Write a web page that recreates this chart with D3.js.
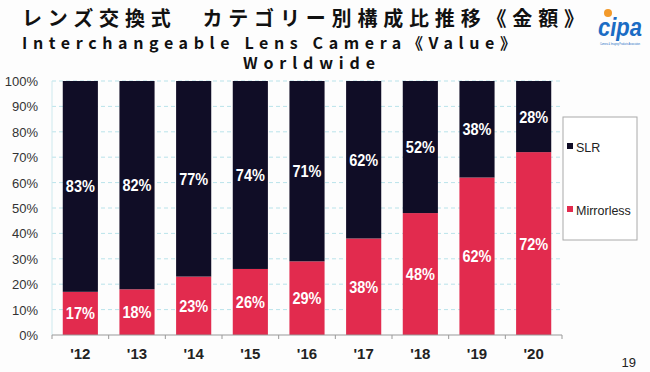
<!DOCTYPE html>
<html>
<head>
<meta charset="utf-8">
<script src="https://cdnjs.cloudflare.com/ajax/libs/d3/7.8.5/d3.min.js"></script>
<style>
  body { margin: 0; background: #fdfdfd; }
  svg { display: block; }
</style>
</head>
<body>
<div id="chart"></div>
<script>
var years = ["'12", "'13", "'14", "'15", "'16", "'17", "'18", "'19", "'20"];
var mirrorless = [17, 18, 23, 26, 29, 38, 48, 62, 72];
var slr = [83, 82, 77, 74, 71, 62, 52, 38, 28];
var yTicks = [0, 10, 20, 30, 40, 50, 60, 70, 80, 90, 100];

var W = 650, H = 372;
var plotL = 52, plotR = 562, plotT = 81, plotB = 335;
var colSLR = "#100d26", colMirror = "#e22b4e";

var svg = d3.select("#chart").append("svg")
    .attr("width", W).attr("height", H);

svg.append("rect").attr("width", W).attr("height", H).attr("fill", "#fdfdfd");

// titles
var jp = "'Noto Sans CJK JP', sans-serif";
svg.append("text")
    .attr("x", 22).attr("y", 26)
    .attr("textLength", 562).attr("lengthAdjust", "spacing")
    .style("font-family", jp).style("font-weight", "bold").style("font-size", "20px")
    .attr("fill", "#111")
    .text("レンズ交換式　カテゴリー別構成比推移《金額》");
svg.append("text")
    .attr("x", 22).attr("y", 49)
    .attr("textLength", 494).attr("lengthAdjust", "spacing")
    .style("font-family", jp).style("font-weight", "bold").style("font-size", "16px")
    .attr("fill", "#111")
    .text("Interchangeable Lens Camera《Value》");
svg.append("text")
    .attr("x", 243).attr("y", 69)
    .attr("textLength", 132).attr("lengthAdjust", "spacing")
    .style("font-family", jp).style("font-weight", "bold").style("font-size", "16px")
    .attr("fill", "#111")
    .text("Worldwide");

// logo
var logo = svg.append("g");
logo.append("text").attr("x", 620).attr("y", 36).attr("text-anchor", "middle")
    .style("font-family", "'Liberation Sans', Arial, sans-serif").style("font-weight", "bold")
    .style("font-style", "italic").style("font-size", "26px").attr("fill", "#1b6cc4")
    .attr("textLength", 44).attr("lengthAdjust", "spacingAndGlyphs")
    .text("cipa");
logo.append("circle").attr("cx", 608).attr("cy", 13).attr("r", 4).attr("fill", "#f39a2a");
logo.append("text").attr("x", 620).attr("y", 45).attr("text-anchor", "middle")
    .style("font-family", "sans-serif").style("font-size", "3.5px").attr("fill", "#1b6cc4")
    .attr("textLength", 40).attr("lengthAdjust", "spacingAndGlyphs")
    .text("Camera & Imaging Products Association");

// scales
var x = d3.scaleBand().domain(years).range([plotL, plotR]).paddingInner(0.38).paddingOuter(0.19);
var y = d3.scaleLinear().domain([0, 100]).range([plotB, plotT]);

// gridlines
svg.append("g").selectAll("line").data(yTicks.slice(1)).enter().append("line")
    .attr("x1", plotL).attr("x2", plotR)
    .attr("y1", function(d) { return y(d); }).attr("y2", function(d) { return y(d); })
    .attr("stroke", "#b9e3ea").attr("stroke-width", 1).attr("stroke-dasharray", "4,3");
svg.append("line").attr("x1", plotL).attr("x2", plotL).attr("y1", plotT).attr("y2", plotB)
    .attr("stroke", "#cde9ee").attr("stroke-width", 1);

// bars
var bars = svg.append("g");
bars.selectAll(".mirror").data(years).enter().append("rect")
    .attr("x", function(d) { return x(d); })
    .attr("width", x.bandwidth())
    .attr("y", function(d, i) { return y(mirrorless[i]); })
    .attr("height", function(d, i) { return y(0) - y(mirrorless[i]); })
    .attr("fill", colMirror);
bars.selectAll(".slr").data(years).enter().append("rect")
    .attr("x", function(d) { return x(d); })
    .attr("width", x.bandwidth())
    .attr("y", function(d, i) { return y(mirrorless[i] + slr[i]); })
    .attr("height", function(d, i) { return y(mirrorless[i]) - y(mirrorless[i] + slr[i]); })
    .attr("fill", colSLR);

// value labels
var lblFont = "'Liberation Sans', Arial, sans-serif";
var labels = svg.append("g").style("font-family", lblFont).style("font-weight", "bold")
    .style("font-size", "16px").attr("fill", "#fff").attr("text-anchor", "middle");
labels.selectAll(".lm").data(years).enter().append("text")
    .attr("x", function(d) { return x(d) + x.bandwidth() / 2; })
    .attr("y", function(d, i) { return y(mirrorless[i] / 2) + 6; })
    .attr("textLength", 29).attr("lengthAdjust", "spacingAndGlyphs")
    .text(function(d, i) { return mirrorless[i] + "%"; });
labels.selectAll(".ls").data(years).enter().append("text")
    .attr("x", function(d) { return x(d) + x.bandwidth() / 2; })
    .attr("y", function(d, i) { return y(mirrorless[i] + slr[i] / 2) + 6; })
    .attr("textLength", 29).attr("lengthAdjust", "spacingAndGlyphs")
    .text(function(d, i) { return slr[i] + "%"; });

// x axis
var xAxis = svg.append("g").attr("transform", "translate(0," + plotB + ")");
xAxis.append("line").attr("x1", plotL).attr("x2", plotR).attr("stroke", "#999");
xAxis.selectAll(".tk").data(d3.range(years.length + 1)).enter().append("line")
    .attr("x1", function(d) { return plotL + d * x.step(); })
    .attr("x2", function(d) { return plotL + d * x.step(); })
    .attr("y1", 0).attr("y2", 4).attr("stroke", "#999");
xAxis.selectAll("text").data(years).enter().append("text")
    .attr("x", function(d) { return x(d) + x.bandwidth() / 2; })
    .attr("y", 24).attr("text-anchor", "middle")
    .style("font-family", lblFont).style("font-weight", "bold").style("font-size", "15px")
    .attr("fill", "#222")
    .text(function(d) { return d; });

// y axis labels
svg.append("g").selectAll("text").data(yTicks).enter().append("text")
    .attr("x", 38).attr("y", function(d) { return y(d) + 5; })
    .attr("text-anchor", "end")
    .style("font-family", lblFont).style("font-size", "13px").attr("fill", "#333")
    .text(function(d) { return d + "%"; });

// legend
var lg = svg.append("g");
lg.append("rect").attr("x", 563).attr("y", 117).attr("width", 74).attr("height", 123)
    .attr("fill", "#fff").attr("stroke", "#aaa").attr("stroke-width", 1);
var legendItems = [{name: "SLR", color: colSLR, y: 147}, {name: "Mirrorless", color: colMirror, y: 210}];
lg.selectAll(".sw").data(legendItems).enter().append("rect")
    .attr("x", 567).attr("y", function(d) { return d.y - 4; })
    .attr("width", 6).attr("height", 6).attr("fill", function(d) { return d.color; });
lg.selectAll(".lt").data(legendItems).enter().append("text")
    .attr("x", 576).attr("y", function(d) { return d.y + 5; })
    .style("font-family", lblFont).style("font-size", "12.5px").attr("fill", "#222")
    .text(function(d) { return d.name; });

// page number
svg.append("text").attr("x", 636).attr("y", 367).attr("text-anchor", "end")
    .style("font-family", lblFont).style("font-size", "13px").attr("fill", "#222")
    .text("19");
</script>
</body>
</html>
